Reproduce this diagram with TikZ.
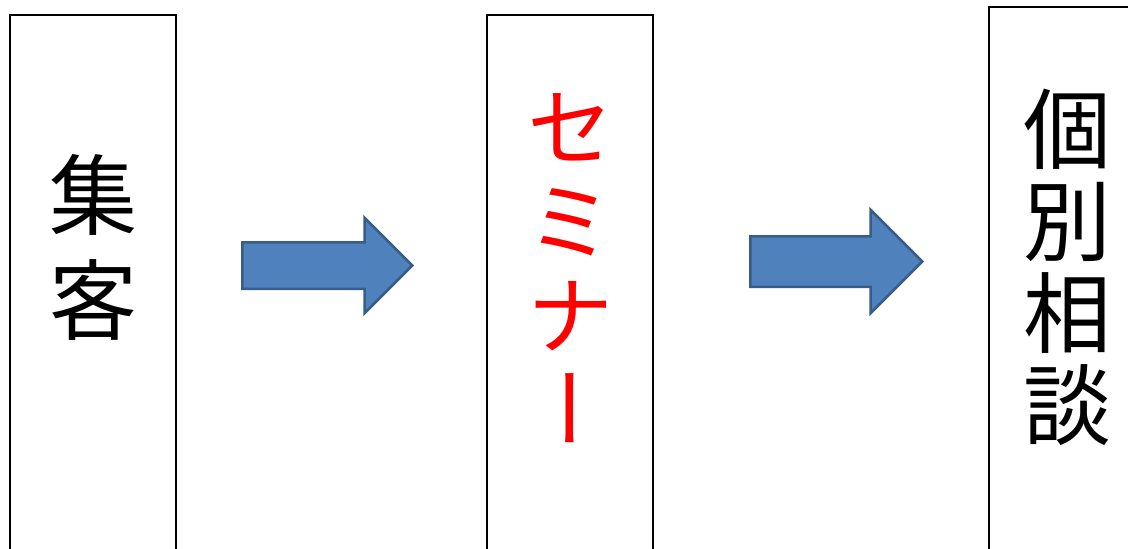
\documentclass[tikz,border=0pt]{standalone}
\usepackage{fontspec}
\newfontfamily\jpfont[RawFeature=+vert]{Noto Sans CJK JP}
\usetikzlibrary{shapes.arrows,positioning}
\definecolor{arrowfill}{HTML}{4F81BD}
\definecolor{arrowline}{HTML}{385D8A}
\begin{document}
\begin{tikzpicture}[x=1pt, y=-1pt,
		stage/.style={draw, line width=1.5pt, minimum width=166pt, minimum height=560pt, anchor=north, inner sep=0pt},
		word/.style={font=\jpfont\fontsize{88}{#1}\selectfont, align=center, inner sep=0pt},
		flow/.style={single arrow, draw=arrowline, fill=arrowfill, line width=2.5pt, inner xsep=0pt, anchor=tail}]
				\useasboundingbox (0, 0) rectangle (1128, 549);

				\node (Collect) [stage] at (93, 14) {};
				\node (CollectText) [word=105] at (93, 247) {集\\客};

				\node (Step1) [flow, inner ysep=22pt, minimum height=170pt, minimum width=93pt, single arrow head extend=24.5pt] at (241, 265.5) {};

				\node (Seminar) [stage] at (570, 14) {};
				\node (SeminarText) [word=94, text=red] at (570, 268) {セ\\ミ\\ナ\\ー};

				\node (Step2) [flow, inner ysep=24pt, minimum height=172pt, minimum width=101pt, single arrow head extend=26.5pt] at (749, 261.5) {};

				\node (Consult) [stage] at (1072, 6) {};
				\node (ConsultText) [word=92] at (1067, 267) {個\\別\\相\\談};
			\end{tikzpicture}
\end{document}
